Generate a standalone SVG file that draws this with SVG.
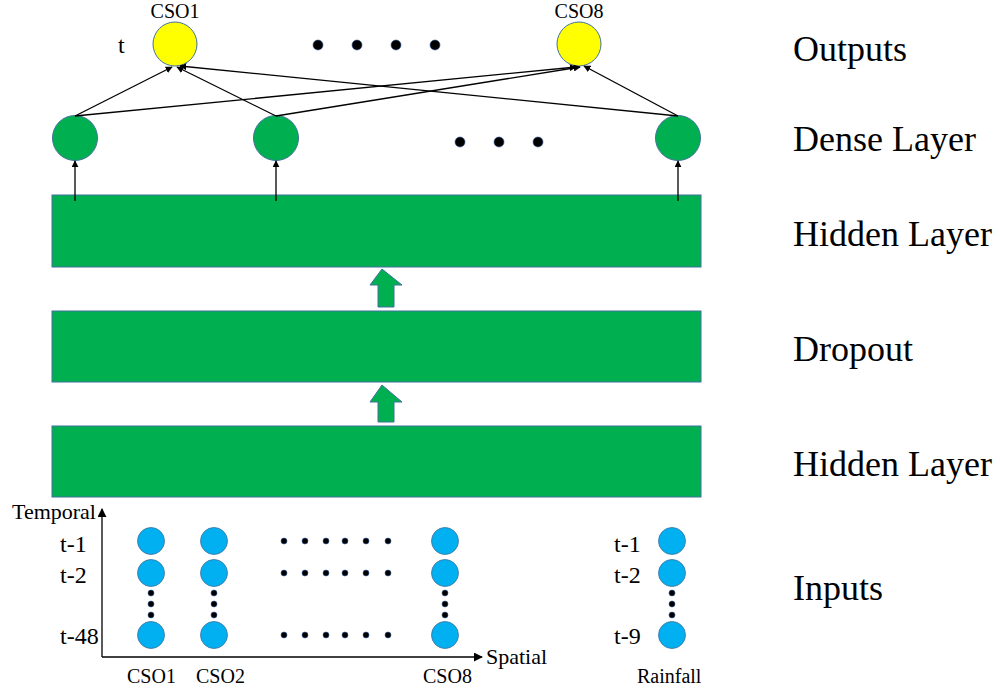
<svg xmlns="http://www.w3.org/2000/svg" width="1000" height="694" viewBox="0 0 1000 694" font-family="'Liberation Serif', 'Times New Roman', 'DejaVu Serif', serif">
<style>
text{font-family:'Liberation Serif','Times New Roman','DejaVu Serif',serif;fill:#000}
.big{font-size:36px}
.sm{font-size:20px}
.t{font-size:24px}
.gr{fill:#00B050;stroke:#41719C;stroke-width:1}
.ye{fill:#FFFF00;stroke:#41719C;stroke-width:1}
.bl{fill:#00B0F0;stroke:#41719C;stroke-width:0.8}
.dot{fill:#000;stroke:#2F5597;stroke-width:0.6}
.ln{stroke:#000;stroke-width:1.3;fill:none;marker-end:url(#ah)}
</style>
<defs>
<marker id="ah" viewBox="0 0 10 10" refX="9" refY="5" markerWidth="7" markerHeight="7" markerUnits="userSpaceOnUse" orient="auto"><path d="M0,0 L10,5 L0,10 z" fill="#000"/></marker>
<marker id="ah2" viewBox="0 0 10 10" refX="9" refY="5" markerWidth="9" markerHeight="9" markerUnits="userSpaceOnUse" orient="auto"><path d="M0,0 L10,5 L0,10 z" fill="#000"/></marker>
</defs>
<rect width="1000" height="694" fill="#fff"/>

<g id="hidden1"><rect class="gr" x="52" y="195" width="649" height="72"/></g>
<g id="dropout"><rect class="gr" x="52" y="311" width="649" height="71"/></g>
<g id="hidden2"><rect class="gr" x="52" y="426" width="649" height="71"/></g>

<g id="outputs">
<circle class="ye" cx="175" cy="44" r="22"/>
<circle class="ye" cx="579" cy="44" r="22"/>
<text class="sm" x="175" y="18" text-anchor="middle">CSO1</text>
<text class="sm" x="579" y="18" text-anchor="middle">CSO8</text>
<text class="t" x="118" y="53">t</text>
<circle class="dot" cx="318" cy="45" r="5"/>
<circle class="dot" cx="357" cy="45" r="5"/>
<circle class="dot" cx="396" cy="45" r="5"/>
<circle class="dot" cx="435" cy="45" r="5"/>
</g>

<g id="dense">
<circle class="gr" cx="75" cy="138" r="22.5"/>
<circle class="gr" cx="276" cy="138" r="22.5"/>
<circle class="gr" cx="678" cy="138" r="22.5"/>
<circle class="dot" cx="460" cy="142" r="5"/>
<circle class="dot" cx="499" cy="142" r="5"/>
<circle class="dot" cx="538" cy="142" r="5"/>
</g>

<g id="connectors">
<line class="ln" x1="75" y1="116" x2="172" y2="67"/>
<line class="ln" x1="75" y1="116" x2="576" y2="67"/>
<line class="ln" x1="276" y1="116" x2="177" y2="67"/>
<line class="ln" x1="276" y1="116" x2="580" y2="67"/>
<line class="ln" x1="678" y1="116" x2="180" y2="66"/>
<line class="ln" x1="678" y1="116" x2="584" y2="66"/>
<line class="ln" x1="75" y1="201" x2="75" y2="161"/>
<line class="ln" x1="276" y1="201" x2="276" y2="161"/>
<line class="ln" x1="678" y1="201" x2="678" y2="161"/>
<polygon class="gr" points="382,269 402,285 394,285 394,307 378,307 378,285 370,285"/>
<polygon class="gr" points="382,385 402,402 394,402 394,422 378,422 378,402 370,402"/>
</g>

<g id="labels">
<text class="big" x="793" y="61">Outputs</text>
<text class="big" x="793" y="151">Dense Layer</text>
<text class="big" x="793" y="246">Hidden Layer</text>
<text class="big" x="793" y="361">Dropout</text>
<text class="big" x="793" y="476">Hidden Layer</text>
<text class="big" x="793" y="600">Inputs</text>
</g>

<g id="axes">
<line x1="102" y1="657" x2="102" y2="509" stroke="#000" stroke-width="1.3" marker-end="url(#ah2)"/>
<line x1="102" y1="657" x2="482" y2="657" stroke="#000" stroke-width="1.3" marker-end="url(#ah2)"/>
<text style="font-size:22px" x="12" y="519">Temporal</text>
<text style="font-size:22px" x="486" y="664">Spatial</text>
</g>

<g id="inputs">
<text class="t" x="60" y="552">t-1</text>
<text class="t" x="60" y="583">t-2</text>
<text class="t" x="60" y="644">t-48</text>
<circle class="bl" cx="151" cy="541" r="13.5"/>
<circle class="bl" cx="151" cy="573" r="13.5"/>
<circle class="bl" cx="151" cy="635" r="13.5"/>
<circle class="dot" cx="151" cy="593" r="3"/>
<circle class="dot" cx="151" cy="604" r="3"/>
<circle class="dot" cx="151" cy="615" r="3"/>
<circle class="bl" cx="214" cy="541" r="13.5"/>
<circle class="bl" cx="214" cy="573" r="13.5"/>
<circle class="bl" cx="214" cy="635" r="13.5"/>
<circle class="dot" cx="214" cy="593" r="3"/>
<circle class="dot" cx="214" cy="604" r="3"/>
<circle class="dot" cx="214" cy="615" r="3"/>
<circle class="bl" cx="445" cy="541" r="13.5"/>
<circle class="bl" cx="445" cy="573" r="13.5"/>
<circle class="bl" cx="445" cy="635" r="13.5"/>
<circle class="dot" cx="445" cy="593" r="3"/>
<circle class="dot" cx="445" cy="604" r="3"/>
<circle class="dot" cx="445" cy="615" r="3"/>
<g id="hdots">
<circle class="dot" cx="284" cy="541" r="3"/><circle class="dot" cx="305" cy="541" r="3"/><circle class="dot" cx="326" cy="541" r="3"/><circle class="dot" cx="345" cy="541" r="3"/><circle class="dot" cx="366" cy="541" r="3"/><circle class="dot" cx="388" cy="541" r="3"/>
<circle class="dot" cx="284" cy="573" r="3"/><circle class="dot" cx="305" cy="573" r="3"/><circle class="dot" cx="326" cy="573" r="3"/><circle class="dot" cx="345" cy="573" r="3"/><circle class="dot" cx="366" cy="573" r="3"/><circle class="dot" cx="388" cy="573" r="3"/>
<circle class="dot" cx="284" cy="635" r="3"/><circle class="dot" cx="305" cy="635" r="3"/><circle class="dot" cx="326" cy="635" r="3"/><circle class="dot" cx="345" cy="635" r="3"/><circle class="dot" cx="366" cy="635" r="3"/><circle class="dot" cx="388" cy="635" r="3"/>
</g>
<text class="sm" x="127" y="683">CSO1</text>
<text class="sm" x="196" y="683">CSO2</text>
<text class="sm" x="423" y="683">CSO8</text>
</g>

<g id="rainfall">
<text class="t" x="614" y="552">t-1</text>
<text class="t" x="614" y="583">t-2</text>
<text class="t" x="614" y="644">t-9</text>
<circle class="bl" cx="672" cy="541" r="13.5"/>
<circle class="bl" cx="672" cy="573" r="13.5"/>
<circle class="bl" cx="672" cy="635" r="13.5"/>
<circle class="dot" cx="672" cy="593" r="3"/>
<circle class="dot" cx="672" cy="604" r="3"/>
<circle class="dot" cx="672" cy="615" r="3"/>
<text class="sm" x="637" y="683">Rainfall</text>
</g>
</svg>
